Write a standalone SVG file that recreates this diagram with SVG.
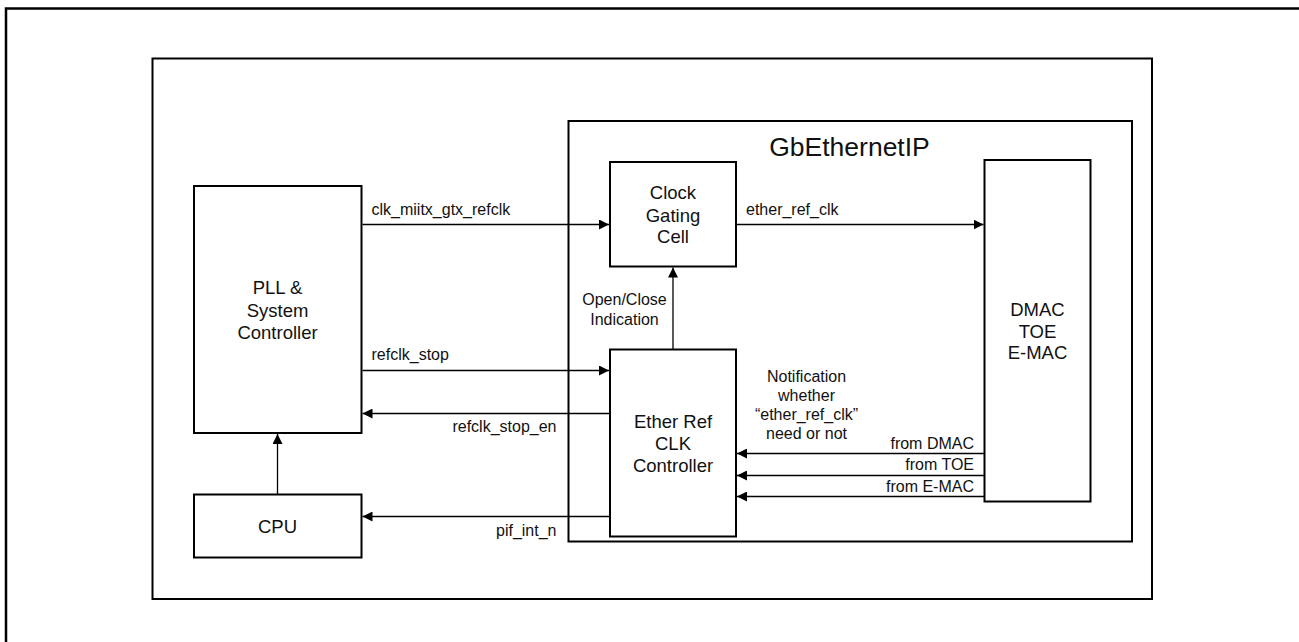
<svg xmlns="http://www.w3.org/2000/svg" width="1299" height="642" viewBox="0 0 1299 642">
<style>
.frame{fill:none;stroke:#000;stroke-width:2}
.box{fill:#fff;stroke:#000;stroke-width:2}
.wire{fill:none;stroke:#000;stroke-width:1.3}
.t{font-family:"Liberation Sans",Arial,sans-serif;fill:#111}
.lbl{font-size:16px}
.nt{font-size:18.5px;text-anchor:middle}
</style>
<defs>
<marker id="ah" viewBox="0 0 10 10" refX="10" refY="5" markerWidth="10" markerHeight="10" markerUnits="userSpaceOnUse" orient="auto">
<path d="M0,0 L10,5 L0,10 Z" fill="#000"/>
</marker>
</defs>
<rect width="1299" height="642" fill="#fff"/>
<path d="M6,642 V8.5 H1299" fill="none" stroke="#000" stroke-width="2.5"/>
<rect class="frame" x="152.5" y="58.5" width="999.5" height="540.5"/>

<g id="gbethernetip">
<rect class="frame" x="568.5" y="121" width="563.5" height="420.5"/>
<text class="t" x="849.5" y="156" font-size="26.5" text-anchor="middle">GbEthernetIP</text>
</g>

<g id="pll">
<rect class="box" x="194" y="186" width="167.5" height="247"/>
<text class="t nt" x="277.5" y="294">PLL &amp;</text>
<text class="t nt" x="277.5" y="316.5">System</text>
<text class="t nt" x="277.5" y="338.5">Controller</text>
</g>

<g id="cpu">
<rect class="box" x="194" y="494.5" width="167.5" height="63"/>
<text class="t nt" x="277.5" y="532.5">CPU</text>
</g>

<g id="cgc">
<rect class="box" x="610" y="162" width="126" height="104.5"/>
<text class="t nt" x="673" y="199">Clock</text>
<text class="t nt" x="673" y="221.5">Gating</text>
<text class="t nt" x="673" y="243">Cell</text>
</g>

<g id="erc">
<rect class="box" x="610" y="349.5" width="126" height="187"/>
<text class="t nt" x="673" y="427.5">Ether Ref</text>
<text class="t nt" x="673" y="449.5">CLK</text>
<text class="t nt" x="673" y="471.5">Controller</text>
</g>

<g id="dmac">
<rect class="box" x="984.5" y="160" width="106" height="341.5"/>
<text class="t nt" x="1037.5" y="316">DMAC</text>
<text class="t nt" x="1037.5" y="337.5">TOE</text>
<text class="t nt" x="1037.5" y="359">E-MAC</text>
</g>

<g id="connectors">
<path class="wire" d="M362.5,224.5 H609" marker-end="url(#ah)"/>
<path class="wire" d="M737,224.5 H983.5" marker-end="url(#ah)"/>
<path class="wire" d="M673,349 V267.5" marker-end="url(#ah)"/>
<path class="wire" d="M362.5,370.5 H609" marker-end="url(#ah)"/>
<path class="wire" d="M609,413.5 H362.5" marker-end="url(#ah)"/>
<path class="wire" d="M609,516.5 H362.5" marker-end="url(#ah)"/>
<path class="wire" d="M277.5,494 V434" marker-end="url(#ah)"/>
<path class="wire" d="M984,453.5 H737" marker-end="url(#ah)"/>
<path class="wire" d="M984,475.5 H737" marker-end="url(#ah)"/>
<path class="wire" d="M984,496.5 H737" marker-end="url(#ah)"/>
<text class="t lbl" x="371.5" y="215">clk_miitx_gtx_refclk</text>
<text class="t lbl" x="746" y="214.5">ether_ref_clk</text>
<text class="t lbl" x="624.5" y="304.5" text-anchor="middle">Open/Close</text>
<text class="t lbl" x="624.5" y="324.5" text-anchor="middle">Indication</text>
<text class="t lbl" x="371.5" y="360">refclk_stop</text>
<text class="t lbl" x="556.5" y="431.5" text-anchor="end">refclk_stop_en</text>
<text class="t lbl" x="556.5" y="535.5" text-anchor="end">pif_int_n</text>
<text class="t lbl" x="806.5" y="381.5" text-anchor="middle">Notification</text>
<text class="t lbl" x="806.5" y="400.5" text-anchor="middle">whether</text>
<text class="t lbl" x="806.5" y="420" text-anchor="middle">“ether_ref_clk”</text>
<text class="t lbl" x="806.5" y="438.5" text-anchor="middle">need or not</text>
<text class="t lbl" x="974" y="449" text-anchor="end">from DMAC</text>
<text class="t lbl" x="974" y="470" text-anchor="end">from TOE</text>
<text class="t lbl" x="974" y="491.5" text-anchor="end">from E-MAC</text>
</g>
</svg>
